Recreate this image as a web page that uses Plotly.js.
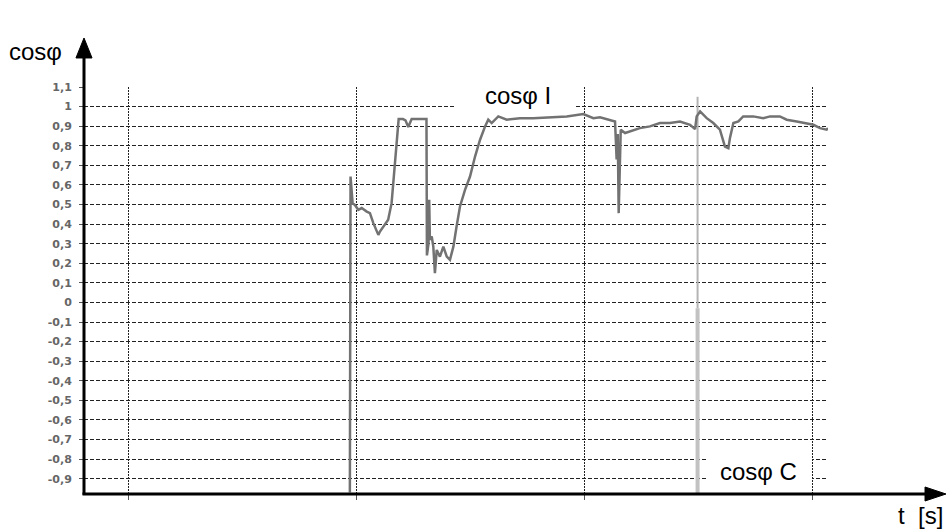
<!DOCTYPE html>
<html>
<head>
<meta charset="utf-8">
<script src="https://cdn.plot.ly/plotly-3.0.1.min.js"></script>
<style>html,body{margin:0;padding:0;background:#fff;}#chart{width:946px;height:529px;}</style>
</head>
<body>
<div id="chart"></div>
<script>
// time axis (arbitrary units: vertical grid lines at 1,2,3,4)
const gridT = [1, 2, 3, 4];

// cos phi I series
const tI = [1.971, 1.974, 1.983, 1.993, 2.008, 2.023, 2.045, 2.059, 2.074, 2.096, 2.103, 2.118, 2.139, 2.154, 2.169, 2.181, 2.185,
  2.204, 2.215, 2.227, 2.242, 2.307, 2.309, 2.316, 2.319, 2.322, 2.330, 2.337, 2.344, 2.352, 2.366, 2.381, 2.396, 2.410, 2.425,
  2.439, 2.454, 2.476, 2.498, 2.520, 2.542, 2.564, 2.578, 2.593, 2.622, 2.659, 2.717, 2.775, 2.849, 2.922, 2.995, 3.039, 3.068,
  3.112, 3.134, 3.141, 3.146, 3.150, 3.159, 3.178, 3.200, 3.243, 3.287, 3.331, 3.375, 3.419, 3.463, 3.485, 3.492, 3.507, 3.536,
  3.565, 3.594, 3.616, 3.631, 3.638, 3.653, 3.675, 3.696, 3.740, 3.784, 3.814, 3.857, 3.887, 3.931, 3.975, 4.004, 4.033, 4.062, 4.068];
const cosI = [-0.97, 0.643, 0.507, 0.498, 0.473, 0.482, 0.464, 0.456, 0.405, 0.345, 0.362, 0.388, 0.422, 0.507, 0.712, 0.865, 0.936,
  0.936, 0.930, 0.896, 0.936, 0.936, 0.240, 0.300, 0.524, 0.320, 0.337, 0.285, 0.150, 0.268, 0.234, 0.285, 0.234, 0.218, 0.285,
  0.388, 0.490, 0.575, 0.643, 0.745, 0.831, 0.899, 0.933, 0.916, 0.950, 0.933, 0.941, 0.941, 0.945, 0.950, 0.962, 0.941, 0.945,
  0.933, 0.924, 0.730, 0.860, 0.456, 0.882, 0.865, 0.873, 0.890, 0.899, 0.916, 0.916, 0.924, 0.907, 0.885, 0.950, 0.975, 0.941,
  0.916, 0.882, 0.796, 0.788, 0.840, 0.916, 0.924, 0.950, 0.950, 0.941, 0.950, 0.950, 0.933, 0.924, 0.916, 0.907, 0.890, 0.882, 0.890];

// cos phi C series (switching step)
const tC = [3.496, 3.496];
const cosC_lower = [-0.978, -0.03];
const cosC_upper = [-0.03, 1.05];

// y tick labels
const yTickVals = [1.1, 1.0, 0.9, 0.8, 0.7, 0.6, 0.5, 0.4, 0.3, 0.2, 0.1, 0, -0.1, -0.2, -0.3, -0.4, -0.5, -0.6, -0.7, -0.8, -0.9];
const yTickText = ["1,1", "1", "0,9", "0,8", "0,7", "0,6", "0,5", "0,4", "0,3", "0,2", "0,1", "0", "-0,1", "-0,2", "-0,3", "-0,4", "-0,5", "-0,6", "-0,7", "-0,8", "-0,9"];

const traces = [
  {x: tC, y: cosC_upper, type: 'scatter', mode: 'lines', line: {color: '#b4b4b4', width: 2}, showlegend: false, hoverinfo: 'skip'},
  {x: tC, y: cosC_lower, type: 'scatter', mode: 'lines', line: {color: '#c2c2c2', width: 4}, showlegend: false, hoverinfo: 'skip'},
  {x: tI, y: cosI, type: 'scatter', mode: 'lines', line: {color: '#727272', width: 2.5}, showlegend: false, hoverinfo: 'skip'}
];

const txtFont = {family: 'Liberation Sans, Arial, sans-serif', size: 24, color: '#000'};

const layout = {
  width: 946, height: 529,
  margin: {l: 84, r: 118, t: 87, b: 35, pad: 0},
  paper_bgcolor: '#fff', plot_bgcolor: '#fff',
  showlegend: false,
  xaxis: {
    range: [0.805, 4.068], tickmode: 'array', tickvals: gridT, showticklabels: false,
    ticks: 'outside', ticklen: 5, tickcolor: '#555', tickwidth: 1,
    showgrid: true, gridcolor: '#222', gridwidth: 1.5, griddash: '2px,1px',
    zeroline: false, showline: false, fixedrange: true
  },
  yaxis: {
    range: [-0.978, 1.1], tickmode: 'array', tickvals: yTickVals, ticktext: yTickText,
    ticks: 'outside', ticklen: 4, tickcolor: '#555', tickwidth: 1, ticklabelstandoff: 5,
    tickfont: {family: 'DejaVu Sans, sans-serif', size: 11, color: '#666', weight: 'bold'},
    showgrid: true, gridcolor: '#222', gridwidth: 1, griddash: '4px,2px',
    zeroline: false, showline: false, fixedrange: true
  },
  shapes: [
    // white label boxes
    {type: 'rect', xref: 'paper', yref: 'paper', x0: (455 - 84) / 744, x1: (575 - 84) / 744, y0: (494 - 111) / 407, y1: (494 - 78) / 407,
      fillcolor: '#fff', line: {width: 0}, layer: 'above'},
    {type: 'rect', xref: 'paper', yref: 'paper', x0: (707 - 84) / 744, x1: (812 - 84) / 744, y0: (494 - 488) / 407, y1: (494 - 455) / 407,
      fillcolor: '#fff', line: {width: 0}, layer: 'above'},
    // y axis line with arrow
    {type: 'line', xref: 'paper', yref: 'paper', x0: 0, x1: 0, y0: -0.002, y1: 1.075, line: {color: '#000', width: 3}},
    {type: 'path', xref: 'paper', yref: 'paper', path: 'M -0.0108 1.0713 L 0.0108 1.0713 L 0 1.1204 Z', fillcolor: '#000', line: {color: '#000', width: 1}},
    // x axis line with arrow
    {type: 'line', xref: 'paper', yref: 'paper', x0: -0.002, x1: 1.132, y0: 0, y1: 0, line: {color: '#000', width: 3}},
    {type: 'path', xref: 'paper', yref: 'paper', path: 'M 1.1304 -0.0172 L 1.1304 0.0172 L 1.1586 0 Z', fillcolor: '#000', line: {color: '#000', width: 1}}
  ],
  annotations: [
    {xref: 'paper', yref: 'paper', x: -0.104, y: 1.087, xanchor: 'left', yanchor: 'middle', text: 'cosφ', showarrow: false, font: txtFont},
    {xref: 'paper', yref: 'paper', x: 1.157, y: -0.052, xanchor: 'right', yanchor: 'middle', text: 't\u00a0\u00a0[s]', showarrow: false, font: txtFont},
    {xref: 'x', yref: 'y', x: 2.71, y: 1.055, xanchor: 'center', yanchor: 'middle', text: 'cosφ I', showarrow: false, font: txtFont},
    {xref: 'x', yref: 'y', x: 3.761, y: -0.861, xanchor: 'center', yanchor: 'middle', text: 'cosφ C', showarrow: false, font: txtFont}
  ]
};

Plotly.newPlot('chart', traces, layout, {staticPlot: true, displayModeBar: false});
</script>
</body>
</html>
